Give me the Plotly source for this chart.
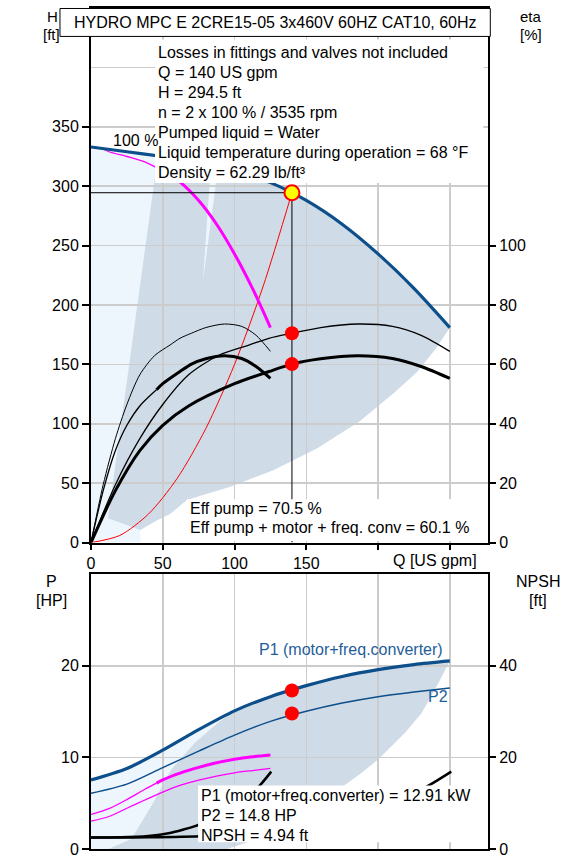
import numpy as np
import plotly.graph_objects as go

# ------------------------------------------------------------------ data
# Q-H, two pumps at 100 % speed (blue)
q_h2 = [0, 25, 50, 75, 100, 125, 150, 175, 200, 225, 250]
h_h2 = [333, 329, 325, 320.5, 313, 303, 288, 268, 243, 214, 181]
# Q-H, one pump at 100 % speed (magenta)
q_h1 = [8, 12.5, 25, 37.5, 50, 62.5, 75, 87.5, 100, 112.5, 125]
h_h1 = [331.5, 329, 325, 320.5, 313, 303, 288, 268, 243, 214, 181]
# system curve (red)
q_sys = [0, 20, 40, 60, 80, 100, 120, 140]
h_sys = [0, 6, 24, 54, 96, 150, 216, 294.5]
# pump efficiency [%] (thin black): one pump / two pumps
q_etap1 = [0, 8.5, 17, 25, 34, 44.4, 55, 62, 70, 80, 93, 105, 115, 125]
q_etap2 = [0, 17, 34, 50, 68, 88.8, 110, 124, 140, 160, 186, 210, 230, 250]
eta_p = [0, 19.5, 35, 46.5, 56.5, 63, 66.5, 68.8, 70.5, 72.4, 73.6, 72.8, 69.8, 64.4]
# pump + motor + freq. conv efficiency [%] (thick black)
q_etat1 = [0, 8.5, 17, 25, 34, 50, 62, 70, 80, 93, 105, 115, 125]
q_etat2 = [0, 17, 34, 50, 68, 100, 124, 140, 160, 186, 210, 230, 250]
eta_t = [0, 17.5, 31, 39.5, 46, 53.5, 57.6, 60.1, 61.9, 62.9, 62, 59.3, 55.3]
# power [HP]
q_p2 = [0, 25, 50, 75, 100, 125, 150, 175, 200, 225, 250]
p1_two = [7.54, 8.79, 10.79, 13.04, 15.09, 16.64, 17.84, 18.84, 19.59, 20.14, 20.54]
p2_two = [6.09, 7.09, 8.89, 10.69, 12.44, 13.94, 15.04, 15.94, 16.64, 17.14, 17.59]
q_p1 = [0, 12.5, 25, 37.5, 50, 62.5, 75, 87.5, 100, 112.5, 125]
p1_one = [3.77, 4.4, 5.4, 6.52, 7.55, 8.32, 8.92, 9.42, 9.8, 10.07, 10.27]
p2_one = [3.05, 3.55, 4.45, 5.35, 6.22, 6.97, 7.52, 7.97, 8.32, 8.57, 8.8]
# NPSH [ft]
q_npsh1 = [0, 20, 40, 55, 65, 72, 80, 90, 100, 110, 118, 125.6]
q_npsh2 = [0, 40, 80, 110, 130, 144, 160, 180, 200, 220, 236, 251]
npsh = [2.5, 2.55, 2.85, 3.5, 4.3, 4.94, 5.9, 7.4, 9.2, 11.4, 14.0, 16.9]
# duty point
Q_DUTY, H_DUTY = 140, 294.5
ETA_PUMP, ETA_TOT = 70.5, 60.1
P1_DUTY_HP, P2_DUTY_HP = 17.31, 14.8
# operating-range outlines (head plot)
a_left_q, a_left_h = [11.9, 46.5], [20.5, 325]
strip_q, strip_h = [83.5, 78, 88.6], [None, 220, None]
rb_q = [250, 240, 227.5, 212, 187, 157, 127, 97, 67, 55, 44.4, 34.4]
rb_h = [181, 163, 144, 127, 102, 79, 61, 47, 36, 24, 17.7, 10.7]
# operating-range outlines (power plot)
dl_q = [11.9, 28.1, 42.1, 56, 72.3, 89.7]
dl_p = [0, 1.08, 4.72, 8.7, 11.6, 13.96]
dr_q = [250, 242, 230.4, 218.8, 200.2, 188.6, 170, 150, 130, 110, 95]
dr_p = [20.54, 18.1, 14.85, 12.7, 9.79, 8.34, 6.2, 4.0, 2.2, 0.8, 0]

x_ticks = [0, 50, 100, 150, 200, 250]
x_labels = ["0", "50", "100", "150", "", ""]

info_lines = ["Losses in fittings and valves not included", "Q = 140 US gpm", "H = 294.5 ft",
              "n = 2 x 100 % / 3535 rpm", "Pumped liquid = Water",
              "Liquid temperature during operation = 68 °F", "Density = 62.29 lb/ft³"]
eff_lines = ["Eff pump = 70.5 %", "Eff pump + motor + freq. conv = 60.1 %"]
pow_lines = ["P1 (motor+freq.converter) = 12.91 kW", "P2 = 14.8 HP", "NPSH = 4.94 ft"]
TITLE = "HYDRO MPC E 2CRE15-05 3x460V 60HZ CAT10, 60Hz"

# ------------------------------------------------------------------ styling
FONT = "Liberation Sans, Arial, sans-serif"
BLUE = "#0D4F8B"
BLUE_TXT = "#1F5E9C"
MAG = "#FF00FF"
DARK = "#CFDBE7"
LIGHT = "#EDF5FD"
GRID = "#CCCCCC"

W, HGT = 561, 867
L, R, T, B = 91.0, 487.7, 5.5, 848.7
def xp(px): return (px - L) / (R - L)
def yp(py): return (B - py) / (B - T)

fig = go.Figure()

def line(x, y, xa, ya, color, width):
    fig.add_trace(go.Scatter(x=x, y=y, xaxis=xa, yaxis=ya, mode="lines",
                             line=dict(color=color, width=width, shape="spline", smoothing=0.8),
                             hoverinfo="skip", showlegend=False))

def split(q, v, q0):
    q = np.asarray(q, float); v = np.asarray(v, float)
    v0 = float(np.interp(q0, q, v))
    lo = q < q0; hi = q > q0
    return (list(q[lo]) + [q0], list(v[lo]) + [v0]), ([q0] + list(q[hi]), [v0] + list(v[hi]))

def path(xs, ys):
    return "M " + " L ".join(f"{a:.3f},{b:.3f}" for a, b in zip(xs, ys)) + " Z"

def on_curve(qs, qc, hc):
    return list(np.interp(qs, qc, hc))

# ---- shading (shapes below grid)
shapes = []
lq = list(q_h2) + rb_q + [rb_q[-1], 0]
lh = list(h_h2) + rb_h + [0, 0]
shapes.append(dict(type="path", path=path(lq, lh), xref="x", yref="y",
                   fillcolor=LIGHT, line=dict(width=0), layer="below"))
seg1 = [q for q in q_h2 if a_left_q[1] < q < strip_q[0]]
seg2 = [q for q in q_h2 if strip_q[2] < q < 250]
sq = [strip_q[0], strip_q[1], strip_q[2]]
sh = [float(np.interp(strip_q[0], q_h2, h_h2)), strip_h[1], float(np.interp(strip_q[2], q_h2, h_h2))]
dq = a_left_q + seg1 + sq + seg2 + rb_q
dh = a_left_h + on_curve(seg1, q_h2, h_h2) + sh + on_curve(seg2, q_h2, h_h2) + rb_h
shapes.append(dict(type="path", path=path(dq, dh), xref="x", yref="y",
                   fillcolor=DARK, line=dict(width=0), layer="below"))
segp0 = [q for q in q_p2 if q < dl_q[-1]]
lpq = [0] + segp0 + [dl_q[-1]] + dl_q[::-1]
lpp = [0] + on_curve(segp0, q_p2, p1_two) + [float(np.interp(dl_q[-1], q_p2, p1_two))] + dl_p[::-1]
shapes.append(dict(type="path", path=path(lpq, lpp), xref="x2", yref="y3",
                   fillcolor=LIGHT, line=dict(width=0), layer="below"))
segp = [q for q in q_p2 if dl_q[-1] < q < dr_q[0]]
dpq = dl_q + segp + dr_q
dpp = dl_p + on_curve(segp, q_p2, p1_two) + dr_p
shapes.append(dict(type="path", path=path(dpq, dpp), xref="x2", yref="y3",
                   fillcolor=DARK, line=dict(width=0), layer="below"))

# ---- head plot curves
line(q_sys, h_sys, "x", "y", "#FF0000", 1)
(m_thin, m_thick) = split(q_h1, h_h1, 46)
line(*m_thin, "x", "y", MAG, 1.3)
line(*m_thick, "x", "y", MAG, 3)
line(q_h2, h_h2, "x", "y", BLUE, 3.2)
fig.add_trace(go.Scatter(x=[0, Q_DUTY, Q_DUTY], y=[H_DUTY, H_DUTY, 0], xaxis="x", yaxis="y",
                         mode="lines", line=dict(color="black", width=1),
                         hoverinfo="skip", showlegend=False))
line(q_etap1, eta_p, "x", "y2", "black", 1)
line(q_etap2, eta_p, "x", "y2", "black", 1.3)
(t_thin, t_thick) = split(q_etat1, eta_t, 45.6)
line(*t_thin, "x", "y2", "black", 1.3)
line(*t_thick, "x", "y2", "black", 3)
line(q_etat2, eta_t, "x", "y2", "black", 3)
fig.add_trace(go.Scatter(x=[Q_DUTY, Q_DUTY], y=[ETA_PUMP, ETA_TOT], xaxis="x", yaxis="y2",
                         mode="markers", marker=dict(color="#FF0000", size=14, line=dict(width=0)),
                         hoverinfo="skip", showlegend=False))
fig.add_trace(go.Scatter(x=[Q_DUTY], y=[H_DUTY * 0.4], xaxis="x", yaxis="y2",
                         mode="markers", marker=dict(color="#FFFF00", size=15,
                                                     line=dict(color="#FF0000", width=2)),
                         hoverinfo="skip", showlegend=False))

# ---- power plot curves
(pm_thin, pm_thick) = split(q_p1, p1_one, 45.6)
line(*pm_thin, "x2", "y3", MAG, 1.3)
line(*pm_thick, "x2", "y3", MAG, 3)
line(q_p1, p2_one, "x2", "y3", MAG, 1.3)
line(q_p2, p2_two, "x2", "y3", BLUE, 1.5)
line(q_p2, p1_two, "x2", "y3", BLUE, 3.2)
line(q_npsh1, npsh, "x2", "y4", "black", 2.5)
line(q_npsh2, npsh, "x2", "y4", "black", 2.5)
fig.add_trace(go.Scatter(x=[Q_DUTY, Q_DUTY], y=[P1_DUTY_HP, P2_DUTY_HP], xaxis="x2", yaxis="y3",
                         mode="markers", marker=dict(color="#FF0000", size=14, line=dict(width=0)),
                         hoverinfo="skip", showlegend=False))

# ---- white boxes (above traces)
def box(x0, y0, x1, y1, border=False):
    shapes.append(dict(type="rect", xref="paper", yref="paper",
                       x0=xp(x0), x1=xp(x1), y0=yp(y1), y1=yp(y0),
                       fillcolor="white",
                       line=dict(color="black", width=1) if border else dict(width=0),
                       layer="above"))
box(155, 37, 483, 181)
box(187, 498, 481, 540)
box(198, 785, 477, 842)

ann = []
def text(s, px, py, xanchor="left", color="black", size=16):
    ann.append(dict(text=s, x=xp(px), y=yp(py), xref="paper", yref="paper",
                    xanchor=xanchor, yanchor="middle", showarrow=False,
                    font=dict(family=FONT, size=size, color=color)))

text("H", 53, 14.5, "center", size=15)
text("[ft]", 52, 32, "center", size=15)
text("eta", 531, 14.5, "center", size=15)
text("[%]", 531, 32, "center", size=15)
box(60, 6, 490, 34, border=True)
text(TITLE, 275, 20, "center")
for i, s in enumerate(info_lines):
    text(s, 156, 50 + i * 20, "left")
text("100 %", 111, 138, "left")
for i, s in enumerate(eff_lines):
    text(s, 188, 507 + i * 19.5, "left")
text("Q [US gpm]", 479, 559, "right")
text("P", 52, 581, "center")
text("[HP]", 52, 600, "center")
text("NPSH", 538, 581, "center")
text("[ft]", 538, 600, "center")
text("P1 (motor+freq.converter)", 257, 649, "left", BLUE_TXT)
text("P2", 426, 696, "left", BLUE_TXT)
for i, s in enumerate(pow_lines):
    text(s, 199, 795 + i * 20, "left")

axis_common = dict(showline=True, linecolor="black", linewidth=2, mirror=True,
                   gridcolor=GRID, gridwidth=1.5, zeroline=False,
                   tickfont=dict(family=FONT, size=16, color="black"),
                   tickcolor="black", tickwidth=2)

fig.update_layout(
    width=W, height=HGT, margin=dict(l=L, r=W - R, t=T, b=HGT - B, pad=0),
    paper_bgcolor="white", plot_bgcolor="white", showlegend=False,
    font=dict(family=FONT, size=16, color="black"),
    xaxis=dict(domain=[0, 1], anchor="y", range=[0, 276.6], tickvals=x_ticks, ticktext=x_labels,
               ticks="outside", ticklen=5, **axis_common),
    yaxis=dict(domain=[yp(541.5), 1], anchor="x", range=[0, 450],
               tickvals=[0, 50, 100, 150, 200, 250, 300, 350], ticks="outside", ticklen=7,
               minor=dict(tickvals=[400], showgrid=True, gridcolor=GRID, gridwidth=1.5, ticks=""),
               **axis_common),
    yaxis2=dict(overlaying="y", side="right", anchor="x", range=[0, 180],
                tickvals=[0, 20, 40, 60, 80, 100], ticks="outside", ticklen=7, showgrid=False,
                showline=False, zeroline=False, tickcolor="black", tickwidth=2,
                tickfont=dict(family=FONT, size=16, color="black")),
    xaxis2=dict(domain=[0, 1], anchor="y3", range=[0, 276.6], tickvals=x_ticks,
                showticklabels=False, ticks="", matches="x", **axis_common),
    yaxis3=dict(domain=[0, yp(573.3)], anchor="x2", range=[0, 30], tickvals=[0, 10, 20],
                ticks="outside", ticklen=7, **axis_common),
    yaxis4=dict(overlaying="y3", side="right", anchor="x2", range=[0, 60], tickvals=[0, 20, 40],
                ticks="outside", ticklen=7, showgrid=False, showline=False, zeroline=False,
                tickcolor="black", tickwidth=2,
                tickfont=dict(family=FONT, size=16, color="black")),
    shapes=shapes, annotations=ann,
)

fig.write_html("out.html", config={"displayModeBar": False, "staticPlot": True},
               post_script="document.body.style.margin='0';document.body.style.padding='0';"
                           "document.documentElement.style.overflow='hidden';")
